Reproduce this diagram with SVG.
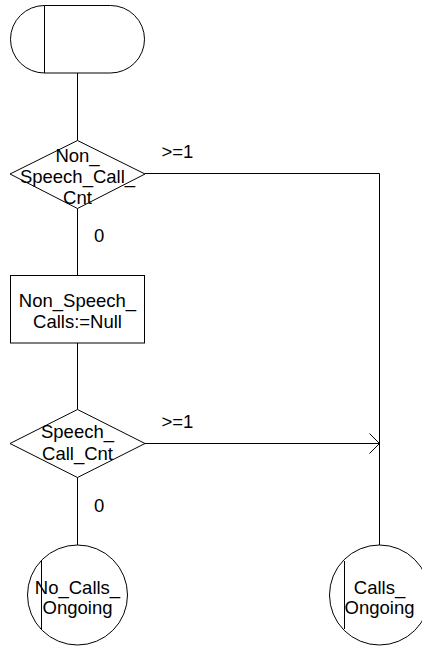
<svg xmlns="http://www.w3.org/2000/svg" width="422" height="646" viewBox="0 0 422 646">
<style>
.s{fill:#fff;stroke:#000;stroke-width:1}
.l{fill:none;stroke:#000;stroke-width:1}
text{font-family:"Liberation Sans",Arial,sans-serif;font-size:18.5px;fill:#000}
.c{text-anchor:middle}
</style>
<rect width="422" height="646" fill="#fff"/>
<g id="connectors">
<path class="l" d="M77.5 73V140.5"/>
<path class="l" d="M77.5 208.5V275"/>
<path class="l" d="M77.5 343V409.5"/>
<path class="l" d="M77.5 477.5V545"/>
<path class="l" d="M145 173.5H379.5V545"/>
<path class="l" d="M145 443.5H379.5"/>
<path class="l" d="M369.5 433.5L379.5 443.5L369.5 453.5"/>
<text x="161.5" y="158">&gt;=1</text>
<text x="161.5" y="428">&gt;=1</text>
<text x="94" y="242">0</text>
<text x="94" y="512">0</text>
</g>
<g id="start">
<rect class="s" x="10.5" y="5.5" width="134" height="67.5" rx="34" ry="33.75"/>
<path class="l" d="M44.5 5.5V73"/>
</g>
<g id="decision1">
<polygon class="s" points="77.5,140.5 145,174 77.5,208.5 10,174"/>
<text class="c" x="77.5" y="162">Non_</text>
<text class="c" x="77.5" y="183">Speech_Call_</text>
<text class="c" x="77.5" y="203.5">Cnt</text>
</g>
<g id="task">
<rect class="s" x="10.5" y="275.5" width="134" height="67.5"/>
<text class="c" x="77.5" y="306.5">Non_Speech_</text>
<text class="c" x="77.5" y="328">Calls:=Null</text>
</g>
<g id="decision2">
<polygon class="s" points="77.5,409.5 145,443.5 77.5,477.5 10,443.5"/>
<text class="c" x="77.5" y="438">Speech_</text>
<text class="c" x="77.5" y="460">Call_Cnt</text>
</g>
<g id="no_calls_ongoing">
<circle class="s" cx="77.5" cy="595" r="50"/>
<path class="l" d="M41.5 560V630"/>
<text class="c" x="77.5" y="594">No_Calls_</text>
<text class="c" x="77.5" y="614">Ongoing</text>
</g>
<g id="calls_ongoing">
<circle class="s" cx="379.5" cy="595" r="50"/>
<path class="l" d="M344.5 561V629"/>
<text class="c" x="379.5" y="594">Calls_</text>
<text class="c" x="379.5" y="614">Ongoing</text>
</g>
</svg>
